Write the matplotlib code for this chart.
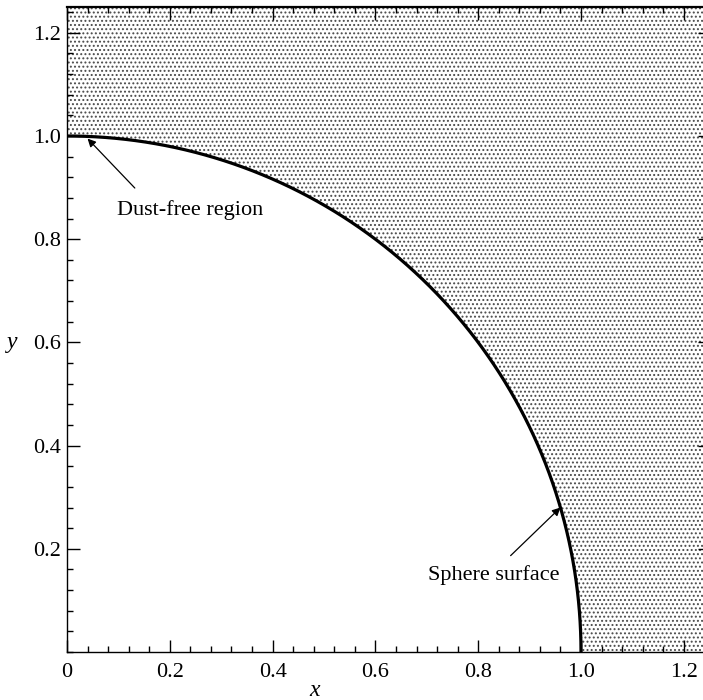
import numpy as np
import matplotlib
matplotlib.use("Agg")
import matplotlib.pyplot as plt
from matplotlib.ticker import MultipleLocator, FixedLocator, FixedFormatter

# ---- data ----
radius = 1.0                      # sphere radius (dimensionless)
x_limit = 1.25
y_limit = 1.25
x_ticks = [0, 0.2, 0.4, 0.6, 0.8, 1.0, 1.2]
x_tick_labels = ["0", "0.2", "0.4", "0.6", "0.8", "1.0", "1.2"]
y_ticks = [0.2, 0.4, 0.6, 0.8, 1.0, 1.2]
y_tick_labels = ["0.2", "0.4", "0.6", "0.8", "1.0", "1.2"]
dust_free_label = "Dust-free region"
dust_free_head = (0.04, 0.995)
dust_free_text = (0.097, 0.857)
sphere_label = "Sphere surface"
sphere_head = (0.96, 0.28)
sphere_text = (0.959, 0.149)

plt.rcParams['font.family'] = ['Liberation Serif', 'DejaVu Serif']
plt.rcParams['hatch.linewidth'] = 0.9

fig = plt.figure(figsize=(7.03, 7.00), dpi=100)
ax = fig.add_axes([67/703, 48/700, x_limit*514/703, y_limit*516/700])

# shaded (dusty) region outside the sphere
xs = np.linspace(0, x_limit, 800)
lower = np.sqrt(np.clip(radius**2 - xs**2, 0, None))
ax.fill_between(xs, lower, y_limit, facecolor='white', edgecolor='#4a4a4a',
                hatch='....', linewidth=0)

# sphere surface
theta = np.linspace(0, np.pi/2, 400)
ax.plot(radius*np.cos(theta), radius*np.sin(theta), color='black', lw=2.3,
        solid_capstyle='butt')

ax.annotate(dust_free_label, xy=dust_free_head, xytext=dust_free_text,
            ha='left', va='center', fontsize=16,
            arrowprops=dict(arrowstyle='-|>', color='black', lw=0.9,
                            shrinkA=9, shrinkB=0, mutation_scale=12,
                            relpos=(0.2, 1.0)))
ax.annotate(sphere_label, xy=sphere_head, xytext=sphere_text,
            ha='right', va='center', fontsize=16,
            arrowprops=dict(arrowstyle='-|>', color='black', lw=0.9,
                            shrinkA=7, shrinkB=0, mutation_scale=12,
                            relpos=(0.55, 1.0)))

ax.set_xlim(0, x_limit)
ax.set_ylim(0, y_limit)

ax.xaxis.set_major_locator(FixedLocator(x_ticks))
ax.xaxis.set_major_formatter(FixedFormatter(x_tick_labels))
ax.yaxis.set_major_locator(FixedLocator(y_ticks))
ax.yaxis.set_major_formatter(FixedFormatter(y_tick_labels))
ax.xaxis.set_minor_locator(MultipleLocator(0.04))
ax.yaxis.set_minor_locator(MultipleLocator(0.04))

ax.tick_params(which='both', direction='in', top=True, right=True, width=1,
               labelsize=16)
ax.tick_params(which='major', length=9)
ax.tick_params(which='minor', length=4.5)
ax.tick_params(axis='x', which='major', pad=8)
ax.tick_params(axis='y', which='major', pad=4)

for s in ax.spines.values():
    s.set_linewidth(1.0)
ax.spines['top'].set_linewidth(1.6)

ax.set_xlabel('x', fontsize=17, style='italic', va='center')
ax.xaxis.set_label_coords(0.385, -0.059)
ax.set_ylabel('y', fontsize=17, style='italic', rotation=0, va='center',
              ha='center')
ax.yaxis.set_label_coords(-0.086, 0.48)

fig.savefig('out.png', dpi=100)
